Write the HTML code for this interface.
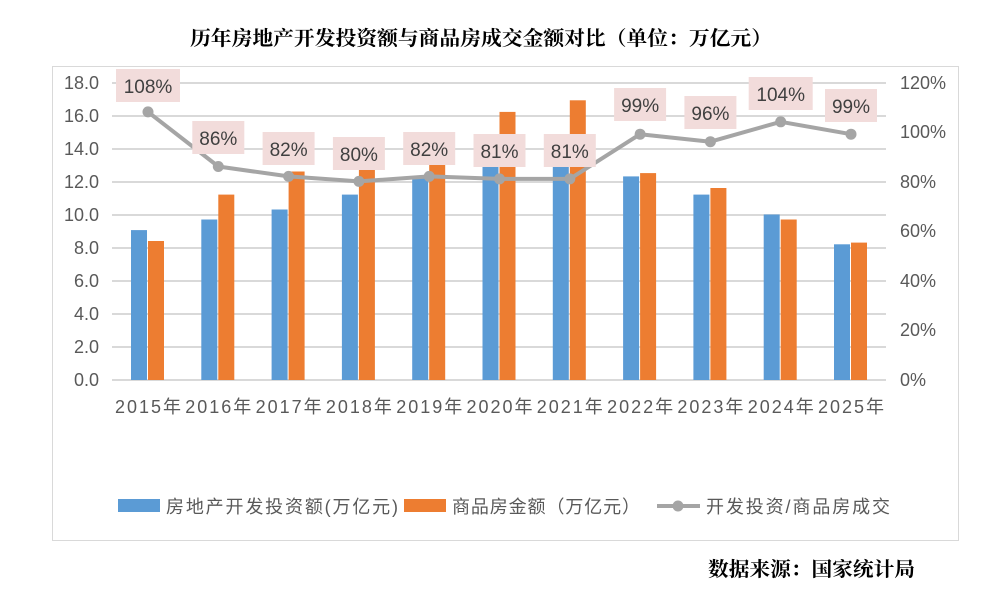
<!DOCTYPE html><html><head><meta charset="utf-8"><style>body{margin:0;background:#fff}svg{display:block}</style></head><body>
<svg width="995" height="595" xmlns="http://www.w3.org/2000/svg" font-family="Liberation Sans, Noto Sans CJK SC, sans-serif">
<rect x="52.5" y="66.5" width="906" height="474" fill="#fff" stroke="#d9d9d9"/>
<text x="190" y="45" textLength="582" lengthAdjust="spacingAndGlyphs" font-family="Noto Serif CJK SC, serif" font-weight="bold" font-size="20" fill="#000">历年房地产开发投资额与商品房成交金额对比（单位：万亿元）</text>
<text x="708" y="576" textLength="207" lengthAdjust="spacingAndGlyphs" font-family="Noto Serif CJK SC, serif" font-weight="bold" font-size="20" fill="#000">数据来源：国家统计局</text>
<g stroke="#d9d9d9" stroke-width="2">
<line x1="112" x2="886" y1="83" y2="83"/><line x1="112" x2="886" y1="116" y2="116"/><line x1="112" x2="886" y1="149" y2="149"/><line x1="112" x2="886" y1="182" y2="182"/><line x1="112" x2="886" y1="215" y2="215"/><line x1="112" x2="886" y1="248" y2="248"/><line x1="112" x2="886" y1="281" y2="281"/><line x1="112" x2="886" y1="314" y2="314"/><line x1="112" x2="886" y1="347" y2="347"/><line x1="112" x2="886" y1="380" y2="380"/>
</g>
<g font-size="18" fill="#595959" text-anchor="end">
<text x="99" y="89">18.0</text><text x="99" y="122">16.0</text><text x="99" y="155">14.0</text><text x="99" y="188">12.0</text><text x="99" y="221">10.0</text><text x="99" y="254">8.0</text><text x="99" y="287">6.0</text><text x="99" y="320">4.0</text><text x="99" y="353">2.0</text><text x="99" y="386">0.0</text>
</g>
<g font-size="18" fill="#595959">
<text x="900" y="89">120%</text><text x="900" y="138">100%</text><text x="900" y="188">80%</text><text x="900" y="237">60%</text><text x="900" y="287">40%</text><text x="900" y="336">20%</text><text x="900" y="386">0%</text>
</g>
<g fill="#5b9bd5">
<rect x="131" y="230.1" width="16" height="149.9"/>
<rect x="201.3" y="219.5" width="16" height="160.5"/>
<rect x="271.6" y="209.5" width="16" height="170.5"/>
<rect x="341.9" y="194.6" width="16" height="185.4"/>
<rect x="412.2" y="178.1" width="16" height="201.9"/>
<rect x="482.5" y="164.9" width="16" height="215.1"/>
<rect x="552.8" y="164.9" width="16" height="215.1"/>
<rect x="623.1" y="176.4" width="16" height="203.6"/>
<rect x="693.4" y="194.6" width="16" height="185.4"/>
<rect x="763.7" y="214.5" width="16" height="165.5"/>
<rect x="834" y="244.3" width="16" height="135.7"/>
</g>
<g fill="#ed7d31">
<rect x="148" y="241" width="16" height="139"/>
<rect x="218.3" y="194.6" width="16" height="185.4"/>
<rect x="288.6" y="171.5" width="16" height="208.5"/>
<rect x="358.9" y="168.2" width="16" height="211.8"/>
<rect x="429.2" y="161.5" width="16" height="218.5"/>
<rect x="499.5" y="111.9" width="16" height="268.1"/>
<rect x="569.8" y="100.3" width="16" height="279.7"/>
<rect x="640.1" y="173.1" width="16" height="206.9"/>
<rect x="710.4" y="188" width="16" height="192"/>
<rect x="780.7" y="219.5" width="16" height="160.5"/>
<rect x="851" y="242.6" width="16" height="137.4"/>
</g>
<g font-size="18" fill="#595959" text-anchor="middle">
<text x="148" y="413" textLength="66">2015年</text><text x="218.3" y="413" textLength="66">2016年</text><text x="288.6" y="413" textLength="66">2017年</text><text x="358.9" y="413" textLength="66">2018年</text><text x="429.2" y="413" textLength="66">2019年</text><text x="499.5" y="413" textLength="66">2020年</text><text x="569.8" y="413" textLength="66">2021年</text><text x="640.1" y="413" textLength="66">2022年</text><text x="710.4" y="413" textLength="66">2023年</text><text x="780.7" y="413" textLength="66">2024年</text><text x="851" y="413" textLength="66">2025年</text>
</g>
<polyline points="148,111.9 218.3,166.5 288.6,176.4 358.9,181.4 429.2,176.4 499.5,178.9 569.8,178.9 640.1,134.2 710.4,141.7 780.7,121.8 851,134.2" fill="none" stroke="#a5a5a5" stroke-width="4" stroke-linejoin="round"/>
<g fill="#a5a5a5">
<circle cx="148" cy="111.9" r="5.5"/><circle cx="218.3" cy="166.5" r="5.5"/><circle cx="288.6" cy="176.4" r="5.5"/><circle cx="358.9" cy="181.4" r="5.5"/><circle cx="429.2" cy="176.4" r="5.5"/><circle cx="499.5" cy="178.9" r="5.5"/><circle cx="569.8" cy="178.9" r="5.5"/><circle cx="640.1" cy="134.2" r="5.5"/><circle cx="710.4" cy="141.7" r="5.5"/><circle cx="780.7" cy="121.8" r="5.5"/><circle cx="851" cy="134.2" r="5.5"/>
</g>
<g fill="#f2dcdb">
<rect x="116" y="69" width="64" height="33"/>
<rect x="192.3" y="121" width="52" height="33"/>
<rect x="262.6" y="132" width="52" height="33"/>
<rect x="332.9" y="137" width="52" height="33"/>
<rect x="403.2" y="132" width="52" height="33"/>
<rect x="473.5" y="134" width="52" height="33"/>
<rect x="543.8" y="134" width="52" height="33"/>
<rect x="614.1" y="88" width="52" height="33"/>
<rect x="684.4" y="96" width="52" height="33"/>
<rect x="748.7" y="77" width="64" height="33"/>
<rect x="825" y="89" width="52" height="33"/>
</g>
<g font-size="19" fill="#404040" text-anchor="middle">
<text x="148" y="93">108%</text><text x="218.3" y="145">86%</text><text x="288.6" y="156">82%</text><text x="358.9" y="161">80%</text><text x="429.2" y="156">82%</text><text x="499.5" y="158">81%</text><text x="569.8" y="158">81%</text><text x="640.1" y="112">99%</text><text x="710.4" y="120">96%</text><text x="780.7" y="101">104%</text><text x="851" y="113">99%</text>
</g>
<rect x="118" y="499" width="42" height="13" fill="#5b9bd5"/><text x="166" y="513" font-size="18" textLength="232" fill="#595959">房地产开发投资额(万亿元)</text>
<rect x="404" y="499" width="42" height="13" fill="#ed7d31"/><text x="452" y="513" font-size="18" textLength="188" fill="#595959">商品房金额（万亿元）</text>
<line x1="657" x2="700" y1="506" y2="506" stroke="#a5a5a5" stroke-width="4"/><circle cx="678" cy="506" r="5.5" fill="#a5a5a5"/><text x="706" y="513" font-size="18" textLength="184" fill="#595959">开发投资/商品房成交</text>
</svg></body></html>
